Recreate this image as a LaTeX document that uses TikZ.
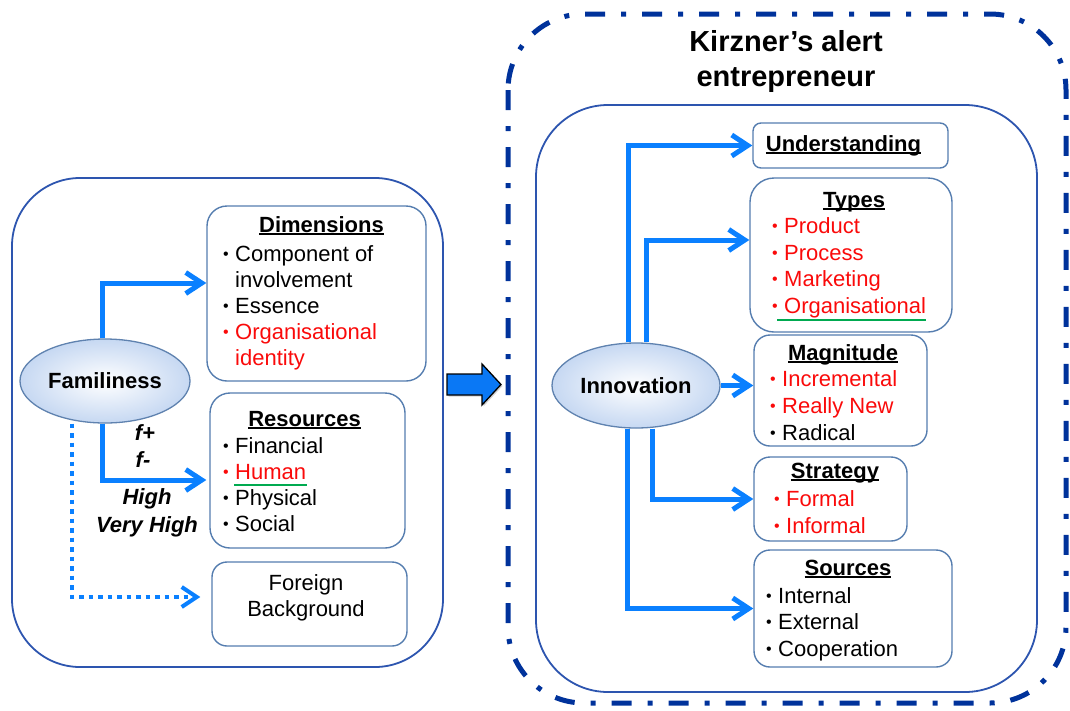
\documentclass[tikz,border=0pt]{standalone}
\usepackage{fontspec}
\setmainfont{Liberation Sans}
\usetikzlibrary{arrows.meta,shapes.geometric,shadows}

\definecolor{flowblue}{RGB}{10,128,255}
\definecolor{frameblue}{RGB}{45,85,175}
\definecolor{cardblue}{RGB}{85,125,175}
\definecolor{navy}{RGB}{0,50,155}
\definecolor{ovalfill}{RGB}{198,216,242}
\definecolor{ovalline}{RGB}{95,130,175}
\definecolor{markgreen}{RGB}{0,170,80}
\definecolor{arrowfill}{RGB}{10,120,245}
\definecolor{alertred}{RGB}{250,10,10}

% list helpers: small bullet with a fixed hanging indent
\newcommand\bul{\makebox[12pt][l]{\raisebox{2pt}{\fontsize{16}{16}\selectfont •}}}
\newcommand\cont{\hspace*{12pt}}
\newcommand\rd[1]{\textcolor{alertred}{#1}}
% heading underline sitting just below the baseline
\newcommand\hdul[1]{\setbox0\hbox{#1}\rlap{\rule[-2.6pt]{\wd0}{1.3pt}}\box0}
\newcommand\bodyfont{\fontsize{22}{26}\selectfont}

\tikzset{
  frame/.style={draw=frameblue, line width=1.8pt},
  card/.style={draw=cardblue, line width=1.4pt, rounded corners=#1, inner sep=0pt},
  card/.default=18pt,
  oval/.style={ellipse, draw=ovalline, line width=1.3pt, inner color=white,
    outer color=ovalfill, inner sep=0pt, font=\bodyfont\bfseries},
  head/.style={anchor=base, inner sep=0pt, font=\bodyfont\bfseries},
  % multi-line lists are placed by the baseline of their last line
  items/.style={anchor=base west, align=left, inner sep=0pt, font=\bodyfont},
  lab/.style={anchor=base, inner sep=0pt, font=\bodyfont\bfseries\itshape},
  flow/.style={draw=flowblue, line width=5pt,
    -{Straight Barb[length=16pt,width=21pt]}},
  hint/.style={draw=flowblue, line width=4pt, dash pattern=on 4.5pt off 5pt,
    -{Straight Barb[length=15pt,width=20pt]}},
  greenmark/.style={draw=markgreen, line width=2.6pt},
}

\begin{document}
\begin{tikzpicture}[x=1pt, y=-1pt]
\useasboundingbox (0,0) rectangle (1070,710);

% ---------------- familiness panel ----------------
\draw[frame, rounded corners=68pt] (12,178) rectangle (443,667);

\node[oval, minimum width=170pt, minimum height=84pt] (fam) at (105,381) {Familiness};

\node[card=20pt, minimum width=219pt, minimum height=175pt] (dim) at (316.5,293.5) {};
\node[head] (dimhead) at (321.5,232) {\hdul{Dimensions}};
\node[items] (dimitems) at (223,365)
  {\bul Component of\\ \cont involvement\\ \bul Essence\\
   \rd{\bul Organisational}\\ \rd{\cont identity}};

\node[card=20pt, minimum width=195pt, minimum height=155pt] (res) at (307.5,470.5) {};
\node[head] (reshead) at (304.5,426) {\hdul{Resources}};
\node[items] (resitems) at (223,531)
  {\bul Financial\\ \rd{\bul Human}\\ \bul Physical\\ \bul Social};
\draw[greenmark] (234,485) -- (307,485);

\node[card=15pt, minimum width=195pt, minimum height=84pt] (fbg) at (309.5,604) {};
\node[anchor=base, align=center, inner sep=0pt, font=\bodyfont] (fbgtext) at (306,616)
  {Foreign\\Background};

\draw[flow] ([xshift=-3pt]fam.north) |- ([yshift=10.5pt]dim.west);
\draw[flow, shorten >=3pt] ([xshift=-3pt]fam.south) |- ([yshift=-9.5pt]res.west);
\draw[hint, shorten >=11pt] ([xshift=-33pt]fam.south) |- ([yshift=7pt]fbg.west);

\node[lab] (fplus) at (145,440) {f+};
\node[lab] (fminus) at (143,467) {f-};
\node[lab] (high) at (147,504) {High};
\node[lab] (vhigh) at (147,532) {Very High};

% ---------------- transition arrow ----------------
\draw[fill=arrowfill, draw=black, line width=1.3pt, line join=miter,
  drop shadow={shadow xshift=1.5pt, shadow yshift=-1.5pt, opacity=0.35}]
  (447,374) -- (482,374) -- (482,364) -- (501,384.5) -- (482,405) -- (482,395)
  -- (447,395) -- cycle;

% ---------------- alert entrepreneur panel ----------------
\draw[navy, line width=5pt, dash pattern=on 20pt off 16pt on 5pt off 16pt,
  rounded corners=76pt] (508,14) rectangle (1066,703);
\node[anchor=base, align=center, inner sep=0pt,
  font=\fontsize{29}{35}\selectfont\bfseries] (title) at (786,86)
  {Kirzner’s alert\\entrepreneur};

\draw[frame, rounded corners=72pt] (536,105) rectangle (1037,692);

\node[oval, minimum width=168pt, minimum height=85pt] (inno) at (636,385.5) {Innovation};

\node[card=8pt, minimum width=195pt, minimum height=45pt] (und) at (850.5,145.5) {};
\node[head] (undhead) at (843.5,151) {\hdul{Understanding}};

\node[card=24pt, minimum width=202pt, minimum height=154pt] (typ) at (851,255) {};
\node[head] (typhead) at (854,207) {\hdul{Types}};
\node[items, font=\fontsize{22}{26.4}\selectfont] (typitems) at (772,313)
  {\rd{\bul Product}\\ \rd{\bul Process}\\ \rd{\bul Marketing}\\ \rd{\bul Organisational}};
\draw[greenmark] (777,320) -- (926,320);

\node[card=16pt, minimum width=173pt, minimum height=111pt] (mag) at (840.5,390.5) {};
\node[head] (maghead) at (843,360) {\hdul{Magnitude}};
\node[items, font=\fontsize{22}{27}\selectfont] (magitems) at (770,440)
  {\rd{\bul Incremental}\\ \rd{\bul Really New}\\ \bul Radical};

\node[card=16pt, minimum width=153pt, minimum height=84pt] (str) at (830.5,499) {};
\node[head] (strhead) at (835,478) {\hdul{Strategy}};
\node[items, font=\fontsize{22}{27}\selectfont] (stritems) at (774,533)
  {\rd{\bul Formal}\\ \rd{\bul Informal}};

\node[card=16pt, minimum width=198pt, minimum height=117pt] (src) at (853,608.5) {};
\node[head] (srchead) at (848,575) {\hdul{Sources}};
\node[items, font=\fontsize{22}{26.5}\selectfont] (srcitems) at (766,656)
  {\bul Internal\\ \bul External\\ \bul Cooperation};

\draw[flow] ([xshift=-8pt]inno.north) |- (und.west);
\draw[flow] ([xshift=10pt]inno.north) |- ([yshift=15pt]typ.west);
\draw[flow] (inno.east) -- (inno.east -| mag.west);
\draw[flow] ([xshift=16pt]inno.south) |- (str.west);
\draw[flow] ([xshift=-9pt]inno.south) |- (src.west);
\end{tikzpicture}
\end{document}
